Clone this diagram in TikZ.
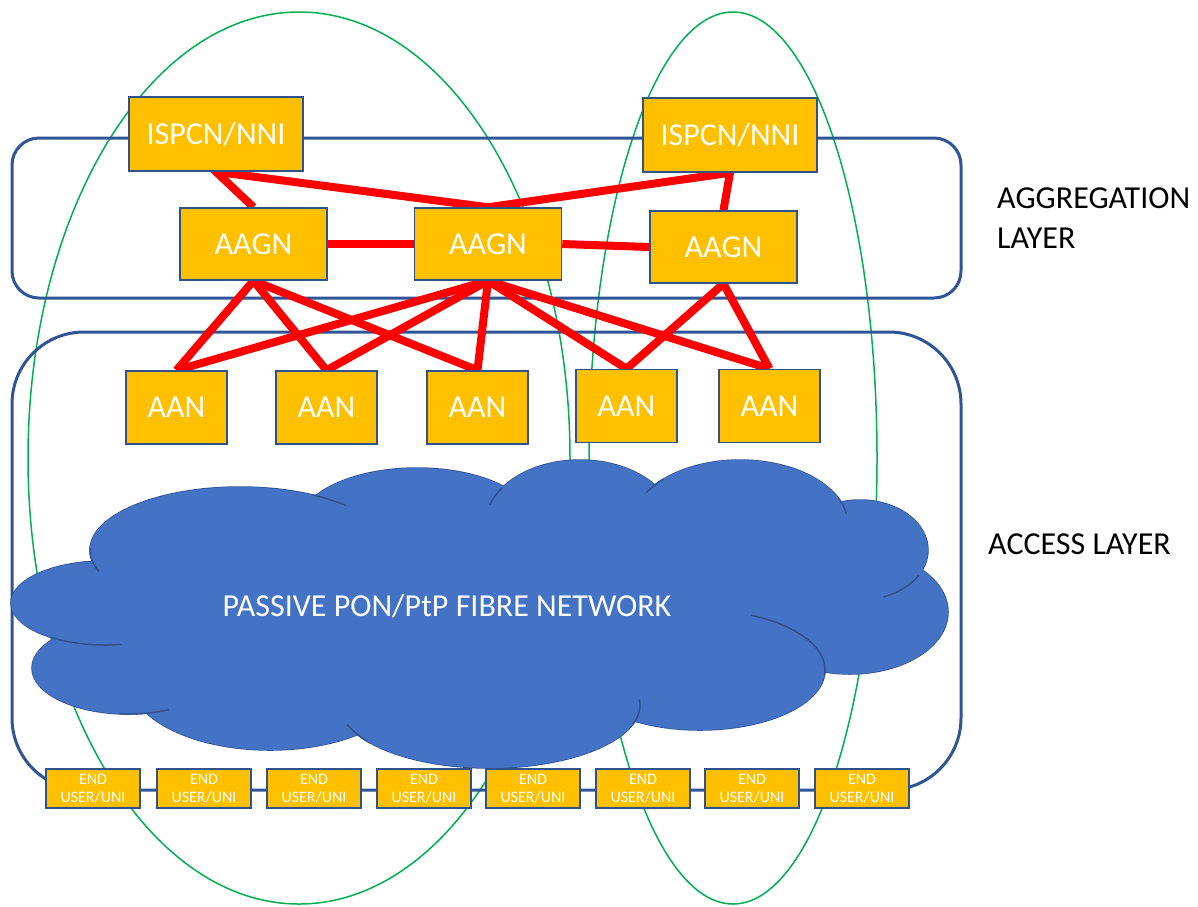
\documentclass[tikz,border=0pt]{standalone}
\usepackage{fontspec}
\setmainfont{Carlito}
\definecolor{orangebox}{RGB}{255,192,0}
\definecolor{boxedge}{RGB}{47,82,143}
\definecolor{layerblue}{RGB}{47,85,151}
\definecolor{greenl}{RGB}{0,176,80}
\definecolor{redl}{RGB}{255,0,0}
\definecolor{cloudfill}{RGB}{68,114,196}
\definecolor{cloudedge}{RGB}{47,82,143}
\newcommand\cloudcrease[6]{\draw[creaseline] (#1,#2) ++(#3:#5pt and #6pt) arc[start angle=#3, end angle=#4, x radius=#5pt, y radius=#6pt];}
\begin{document}
\begin{tikzpicture}[x=1pt,y=-1pt,
  obox/.style={draw=boxedge, line width=1.5pt, fill=orangebox, text=white, inner sep=0pt, font=\fontsize{32}{38}\selectfont},
  ispbox/.style={obox, minimum width=174pt, minimum height=74pt},
  aggbox/.style={obox, minimum width=147pt, minimum height=72pt},
  aanbox/.style={obox, minimum width=101pt, minimum height=73pt},
  ubox/.style={obox, minimum width=94pt, minimum height=39pt, align=center, font=\fontsize{16}{18}\selectfont},
  redlink/.style={draw=redl, line width=8pt, line join=miter},
  layer/.style={draw=layerblue, line width=3pt},
  grn/.style={draw=greenl, line width=1.5pt},
  lobeline/.style={draw=cloudedge, fill=cloudfill, line width=1.5pt},
  lobefill/.style={fill=cloudfill},
  creaseline/.style={draw=cloudedge, line width=1.5pt},
  laytext/.style={text=black, inner sep=0pt, font=\fontsize{32}{40}\selectfont}
]
\useasboundingbox[fill=white] (0,0) rectangle (1198,906);

% green ellipses
\draw[grn] (299,458) ellipse [x radius=271pt, y radius=446pt];
\draw[grn] (733,458) ellipse [x radius=144pt, y radius=446pt];

% layers
\draw[layer, rounded corners=27pt] (12,138) rectangle (961,298);
\draw[layer, rounded corners=72pt] (12,332) rectangle (961,790);

% cloud
\foreach \cx/\cy/\rx/\ry in {105/603/94pt/42pt, 128/668/96pt/46pt, 240/550/150pt/63pt,
  417/525/118pt/57pt, 580/525/95pt/65pt, 740/525/108pt/65pt, 860/550/68pt/50pt,
  850/612/98pt/62pt, 700/670/125pt/60pt, 490/705/150pt/63pt, 270/680/140pt/70pt}
  {\path[lobeline] (\cx,\cy) ellipse [x radius=\rx, y radius=\ry];}
\foreach \cx/\cy/\rx/\ry in {105/603/94pt/42pt, 128/668/96pt/46pt, 240/550/150pt/63pt,
  417/525/118pt/57pt, 580/525/95pt/65pt, 740/525/108pt/65pt, 860/550/68pt/50pt,
  850/612/98pt/62pt, 700/670/125pt/60pt, 490/705/150pt/63pt, 270/680/140pt/70pt,
  480/600/400pt/110pt}
  {\path[lobefill] (\cx,\cy) ellipse [x radius=\rx, y radius=\ry];}
\cloudcrease{240}{550}{178}{200}{150}{63}
\cloudcrease{240}{550}{61}{45}{150}{63}
\cloudcrease{580}{525}{162}{145}{95}{65}
\cloudcrease{740}{525}{150}{135}{108}{65}
\cloudcrease{740}{525}{25}{10}{108}{65}
\cloudcrease{860}{550}{-70}{-30}{68}{50}
\cloudcrease{700}{670}{66}{-5}{125}{60}
\cloudcrease{490}{705}{5}{-18}{150}{63}
\cloudcrease{490}{705}{-162}{-145}{150}{63}
\cloudcrease{128}{668}{-95}{-65}{96}{46}
\cloudcrease{105}{603}{-125}{-80}{94}{42}
\node[text=white, inner sep=0pt, font=\fontsize{32}{38}\selectfont] (pon) at (447,606) {PASSIVE PON/PtP FIBRE NETWORK};

% nodes
\node[ispbox] (isp1) at (216,134) {ISPCN/NNI};
\node[ispbox] (isp2) at (730,135) {ISPCN/NNI};
\node[aggbox] (agg1) at (253.5,244) {AAGN};
\node[aggbox] (agg2) at (488,244) {AAGN};
\node[aggbox] (agg3) at (723.5,247) {AAGN};
\node[aanbox] (aan1) at (176.5,407.5) {AAN};
\node[aanbox] (aan2) at (326.5,407.5) {AAN};
\node[aanbox] (aan3) at (477.5,407.5) {AAN};
\node[aanbox] (aan4) at (626.5,406) {AAN};
\node[aanbox] (aan5) at (769.5,406) {AAN};

% red links
\draw[redlink] (agg1.north) -- (isp1.south) -- (agg2.north) -- (isp2.south) -- (agg3.north);
\draw[redlink] (agg1.east) -- (agg2.west);
\draw[redlink] (agg2.east) -- (agg3.west);
\foreach \t in {aan1,aan2,aan3} {\draw[redlink] (agg1.south) -- (\t.north);}
\foreach \t in {aan1,aan2,aan3,aan4,aan5} {\draw[redlink] (agg2.south) -- (\t.north);}
\foreach \t in {aan4,aan5} {\draw[redlink] (agg3.south) -- (\t.north);}

% redraw boxes on top of links
\node[ispbox] at (isp1) {ISPCN/NNI};
\node[ispbox] at (isp2) {ISPCN/NNI};
\node[aggbox] at (agg1) {AAGN};
\node[aggbox] at (agg2) {AAGN};
\node[aggbox] at (agg3) {AAGN};
\node[aanbox] at (aan1) {AAN};
\node[aanbox] at (aan2) {AAN};
\node[aanbox] at (aan3) {AAN};
\node[aanbox] at (aan4) {AAN};
\node[aanbox] at (aan5) {AAN};

% end users
\foreach \x [count=\i] in {93,204,314,424,533,643,752,862}
  {\node[ubox] (eu\i) at (\x,788.5) {END\\USER/UNI};}

% layer labels
\node[laytext, anchor=west, align=left] (agglab) at (997,218.5) {AGGREGATION\\LAYER};
\node[laytext, anchor=west] (acclab) at (988,544.5) {ACCESS LAYER};
\end{tikzpicture}
\end{document}
